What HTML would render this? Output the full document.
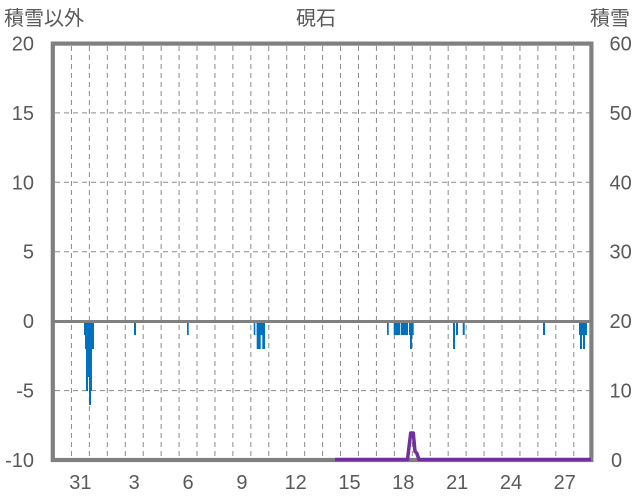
<!DOCTYPE html>
<html><head><meta charset="utf-8"><style>
html,body{margin:0;padding:0;background:#fff;}
svg{display:block;}
text{font-family:"Liberation Sans","Noto Sans CJK JP",sans-serif;fill:#595959;font-size:20px;}
</style></head><body>
<svg width="636" height="501" viewBox="0 0 636 501" xmlns="http://www.w3.org/2000/svg">
<rect x="0" y="0" width="636" height="501" fill="#fff"/>
<!-- vertical dashed grid -->
<g stroke="#8a8a8a" stroke-width="1" stroke-dasharray="5,4">
<line x1="71.44" y1="46" x2="71.44" y2="458"/>
<line x1="89.38" y1="46" x2="89.38" y2="458"/>
<line x1="107.32" y1="46" x2="107.32" y2="458"/>
<line x1="125.26" y1="46" x2="125.26" y2="458"/>
<line x1="143.2" y1="46" x2="143.2" y2="458"/>
<line x1="161.14" y1="46" x2="161.14" y2="458"/>
<line x1="179.08" y1="46" x2="179.08" y2="458"/>
<line x1="197.02" y1="46" x2="197.02" y2="458"/>
<line x1="214.96" y1="46" x2="214.96" y2="458"/>
<line x1="232.9" y1="46" x2="232.9" y2="458"/>
<line x1="250.84" y1="46" x2="250.84" y2="458"/>
<line x1="268.78" y1="46" x2="268.78" y2="458"/>
<line x1="286.72" y1="46" x2="286.72" y2="458"/>
<line x1="304.66" y1="46" x2="304.66" y2="458"/>
<line x1="322.6" y1="46" x2="322.6" y2="458"/>
<line x1="340.54" y1="46" x2="340.54" y2="458"/>
<line x1="358.48" y1="46" x2="358.48" y2="458"/>
<line x1="376.42" y1="46" x2="376.42" y2="458"/>
<line x1="394.36" y1="46" x2="394.36" y2="458"/>
<line x1="412.3" y1="46" x2="412.3" y2="458"/>
<line x1="430.24" y1="46" x2="430.24" y2="458"/>
<line x1="448.18" y1="46" x2="448.18" y2="458"/>
<line x1="466.12" y1="46" x2="466.12" y2="458"/>
<line x1="484.06" y1="46" x2="484.06" y2="458"/>
<line x1="502" y1="46" x2="502" y2="458"/>
<line x1="519.94" y1="46" x2="519.94" y2="458"/>
<line x1="537.88" y1="46" x2="537.88" y2="458"/>
<line x1="555.82" y1="46" x2="555.82" y2="458"/>
<line x1="573.76" y1="46" x2="573.76" y2="458"/>
</g>
<!-- horizontal dashed grid -->
<g stroke="#8a8a8a" stroke-width="1" stroke-dasharray="5,4">
<line x1="55" y1="112.9" x2="590" y2="112.9"/>
<line x1="55" y1="182.3" x2="590" y2="182.3"/>
<line x1="55" y1="251.7" x2="590" y2="251.7"/>
<line x1="55" y1="390.6" x2="590" y2="390.6"/>
</g>
<!-- zero line -->
<line x1="53" y1="321.5" x2="591.5" y2="321.5" stroke="#808080" stroke-width="3"/>
<!-- blue bars -->
<g fill="#0070C0">
<rect x="84" y="323" width="10" height="12"/>
<rect x="85" y="323" width="9" height="26"/>
<rect x="86" y="323" width="6" height="54"/>
<rect x="86" y="323" width="2" height="68"/>
<rect x="89" y="323" width="3" height="68"/>
<rect x="89" y="323" width="2" height="82"/>
<rect x="134" y="323" width="2" height="12"/>
<rect x="187" y="323" width="1.7" height="12"/>
<rect x="253.7" y="323" width="1.6" height="12"/>
<rect x="256.7" y="323" width="8.3" height="12"/>
<rect x="256.7" y="323" width="4" height="26"/>
<rect x="262.3" y="323" width="2.7" height="26"/>
<rect x="387" y="323" width="1.7" height="12"/>
<rect x="393.7" y="323" width="6.6" height="12"/>
<rect x="401" y="323" width="7" height="12"/>
<rect x="409" y="323" width="4.7" height="12"/>
<rect x="410" y="323" width="2" height="26"/>
<rect x="453" y="323" width="2" height="26"/>
<rect x="456" y="323" width="2" height="12"/>
<rect x="462.7" y="323" width="2" height="12"/>
<rect x="543" y="323" width="2" height="12"/>
<rect x="579" y="323" width="8" height="12"/>
<rect x="580" y="323" width="2" height="26"/>
<rect x="583" y="323" width="2" height="26"/>
</g>
<!-- frame -->
<rect x="52.8" y="43.6" width="538.6" height="416.4" fill="none" stroke="#808080" stroke-width="4.2"/>
<!-- purple snow line -->
<polyline points="335,459.5 407.5,459.5 410.7,433 413.3,433 415,451.5 416.7,453 419,459.5 591,459.5" fill="none" stroke="#7030A0" stroke-width="3.5" stroke-linejoin="round"/>
<!-- titles -->
<text x="4" y="25">積雪以外</text>
<text x="316" y="25" text-anchor="middle">硯石</text>
<text x="590" y="25">積雪</text>
<!-- left axis labels -->
<g text-anchor="end">
<text x="34" y="50.5">20</text>
<text x="34" y="119.9">15</text>
<text x="34" y="189.3">10</text>
<text x="34" y="258.7">5</text>
<text x="34" y="328.1">0</text>
<text x="34" y="397.5">-5</text>
<text x="34" y="466.9">-10</text>
</g>
<!-- right axis labels -->
<g text-anchor="start">
<text x="609.5" y="50.5">60</text>
<text x="609.5" y="119.9">50</text>
<text x="609.5" y="189.3">40</text>
<text x="609.5" y="258.7">30</text>
<text x="609.5" y="328.1">20</text>
<text x="609.5" y="397.5">10</text>
<text x="611" y="466.9">0</text>
</g>
<!-- bottom labels -->
<g text-anchor="middle">
<text x="80.4" y="489">31</text>
<text x="134.2" y="489">3</text>
<text x="188" y="489">6</text>
<text x="241.9" y="489">9</text>
<text x="295.7" y="489">12</text>
<text x="349.5" y="489">15</text>
<text x="403.3" y="489">18</text>
<text x="457.2" y="489">21</text>
<text x="511" y="489">24</text>
<text x="564.8" y="489">27</text>
</g>
</svg>
</body></html>
